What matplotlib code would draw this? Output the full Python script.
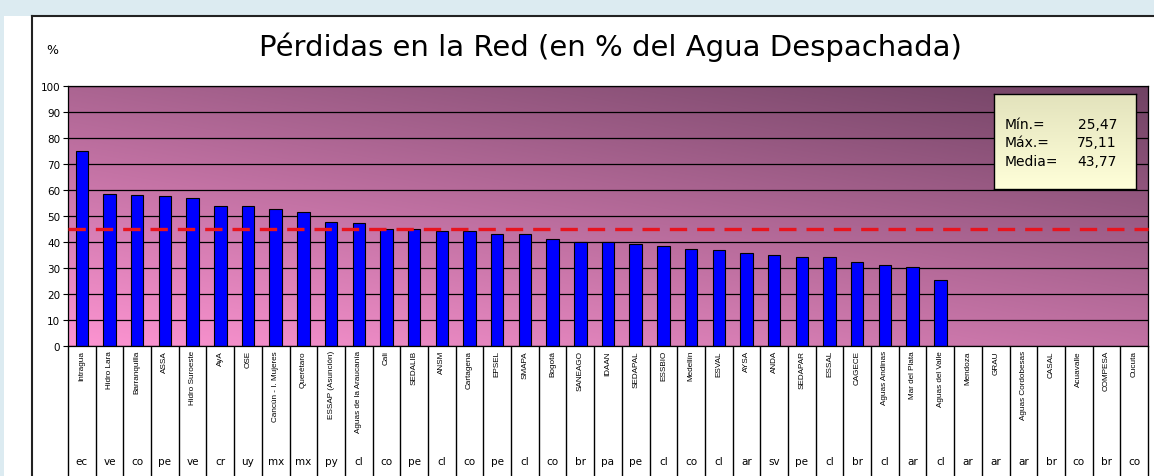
import numpy as np
import matplotlib
matplotlib.use("Agg")
import matplotlib.pyplot as plt
from matplotlib.lines import Line2D
from matplotlib.patches import Rectangle

# Datos del grafico
empresas = ["Intragua", "Hidro Lara", "Barranquilla", "ASSA", "Hidro Suroeste",
            "AyA", "OSE", "Cancún - I. Mujeres", "Querétaro", "ESSAP (Asunción)",
            "Aguas de la Araucanía", "Cali", "SEDALIB", "ANSM", "Cartagena",
            "EPSEL", "SMAPA", "Bogotá", "SANEAGO", "IDAAN", "SEDAPAL", "ESSBIO",
            "Medellín", "ESVAL", "AYSA", "ANDA", "SEDAPAR", "ESSAL", "CAGECE",
            "Aguas Andinas", "Mar del Plata", "Aguas del Valle", "Mendoza", "GRAU",
            "Aguas Cordobesas", "CASAL", "Acuavalle", "COMPESA", "Cucuta"]
paises = ["ec", "ve", "co", "pe", "ve", "cr", "uy", "mx", "mx", "py", "cl", "co",
          "pe", "cl", "co", "pe", "cl", "co", "br", "pa", "pe", "cl", "co", "cl",
          "ar", "sv", "pe", "cl", "br", "cl", "ar", "cl", "ar", "ar", "ar", "br",
          "co", "br", "co"]
perdidas = [75.11, 58.6, 57.9, 57.5, 56.7, 53.7, 53.7, 52.5, 51.4, 47.8, 47.2,
            44.8, 44.8, 44.3, 44.0, 42.9, 42.9, 41.1, 40.1, 39.8, 39.1, 38.2,
            37.3, 36.8, 35.8, 34.9, 34.0, 34.0, 32.1, 31.2, 30.2, 25.47]
linea_media = 44.8
etiquetas_resumen = ["Mín.=", "Máx.=", "Media="]
valores_resumen = ["25,47", "75,11", "43,77"]

n = len(empresas)
valores = perdidas + [np.nan] * (n - len(perdidas))

fig = plt.figure(figsize=(11.54, 4.77), dpi=100)
fig.patch.set_facecolor("#dcebf1")

# marco blanco de la diapositiva
fig.add_artist(Rectangle((4 / 1154, 0), 1, 1 - 17 / 477, transform=fig.transFigure,
                         facecolor="white", edgecolor="none", zorder=-5))
fig.add_artist(Line2D([32 / 1154, 32 / 1154], [0, 1 - 17 / 477], color="#222222", lw=1.5))
fig.add_artist(Line2D([32 / 1154, 1], [1 - 17 / 477, 1 - 17 / 477], color="#222222", lw=1.5))

ax = fig.add_axes([68 / 1154, 1 - 346.7 / 477, 1080 / 1154, 259.7 / 477])

# fondo degradado
u = np.linspace(0, 1, 300)
v = np.linspace(0, 1, 100)
U, V = np.meshgrid(u, v)
t = 0.42 * U + 0.58 * V
c0 = np.array([0.99, 0.58, 0.82])
c1 = np.array([0.44, 0.26, 0.39])
grad = c0[None, None, :] * (1 - t[..., None]) + c1[None, None, :] * t[..., None]
ax.imshow(grad, extent=[-0.5, n - 0.5, 0, 100], origin="lower", aspect="auto",
          zorder=0, interpolation="bicubic")

x = np.arange(n)
ax.bar(x, valores, width=0.45, color="#0000ff", edgecolor="black", linewidth=0.8, zorder=2)
ax.axhline(linea_media, color="#e8141e", lw=2.4, dashes=(5.2, 3.0), zorder=3, clip_on=False)

ax.set_xlim(-0.5, n - 0.5)
ax.set_ylim(0, 100)
ax.set_yticks(range(0, 101, 10))
ax.yaxis.grid(True, color="black", lw=0.9)
ax.set_xticks([])
ax.tick_params(axis="y", direction="out", length=3.6, width=0.8, pad=2, labelsize=7.5)
for s in ax.spines.values():
    s.set_color("black")
    s.set_linewidth(0.9)

# tabla de nombres debajo
trans = ax.get_xaxis_transform()
ax.vlines(np.arange(n + 1) - 0.5, -0.51, 0, transform=trans, colors="black",
          lw=1.0, clip_on=False)
for i in range(n):
    ax.text(i, -0.017, empresas[i], transform=trans, rotation=90, ha="center", va="top",
            fontsize=5.9, family=["Liberation Sans", "DejaVu Sans"])
    ax.text(i, -0.444, paises[i], transform=trans, ha="center", va="center", fontsize=7.5)

fig.text(0.5286, 0.9015, "Pérdidas en la Red (en % del Agua Despachada)",
         ha="center", va="center", fontsize=21)
fig.text(0.0451, 0.895, "%", ha="center", va="center", fontsize=9)

# cuadro de resumen
axr = fig.add_axes([994 / 1154, 1 - 190 / 477, 142 / 1154, 95 / 477])
g = np.linspace(0, 1, 50)[:, None]
ca = np.array([1.0, 1.0, 0.85])
cb = np.array([0.89, 0.89, 0.74])
gr = ca[None, None, :] * (1 - g[..., None]) + cb[None, None, :] * g[..., None]
gr = np.repeat(gr, 2, axis=1)
axr.imshow(gr, extent=[0, 1, 0, 1], origin="lower", aspect="auto")
axr.set_xlim(0, 1)
axr.set_ylim(0, 1)
axr.set_xticks([])
axr.set_yticks([])
for s in axr.spines.values():
    s.set_color("black")
    s.set_linewidth(1.0)
for k, yy in enumerate([0.684, 0.495, 0.295]):
    axr.text(0.0775, yy, etiquetas_resumen[k], ha="left", va="center", fontsize=10)
    axr.text(0.866, yy, valores_resumen[k], ha="right", va="center", fontsize=10)

fig.savefig("out.png", dpi=100, facecolor=fig.get_facecolor())
